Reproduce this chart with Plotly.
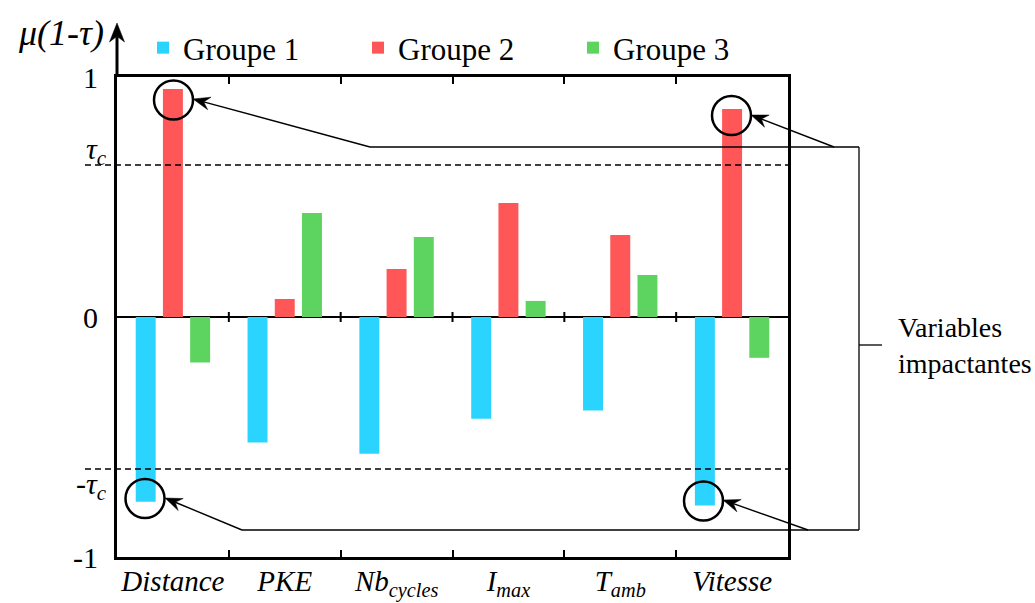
import math
import plotly.graph_objects as go

categories = ["Distance", "PKE", "Nb_cycles", "I_max", "T_amb", "Vitesse"]
tick_labels = ["<i>Distance</i>", "<i>PKE</i>", "<i>Nb<sub>cycles</sub></i>",
               "<i>I<sub>max</sub></i>", "<i>T<sub>amb</sub></i>", "<i>Vitesse</i>"]
series_names = ["Groupe 1", "Groupe 2", "Groupe 3"]
groupe1 = [-0.77, -0.523, -0.57, -0.424, -0.39, -0.785]
groupe2 = [0.95, 0.075, 0.20, 0.475, 0.342, 0.867]
groupe3 = [-0.19, 0.433, 0.333, 0.067, 0.175, -0.17]
colors = ["#2BD4FF", "#FF5757", "#5ED460"]
tau_c = 0.633
y_tickvals = [1, 0, -1]
y_ticktext = ["1", "0", "-1"]

W, H = 1035, 603
L, R, T, B = 117, 247, 77, 46
PW, PH = W - L - R, H - T - B
FONT = "Liberation Serif"


def px(x):
    return (x - L) / PW


def py(y):
    return (H - B - y) / PH


fig = go.Figure()
for name, vals, col in zip(series_names, [groupe1, groupe2, groupe3], colors):
    fig.add_trace(go.Bar(x=categories, y=vals, name=name, marker=dict(color=col, line=dict(width=0))))

shapes = []
# dashed threshold lines
for v in (tau_c, -tau_c):
    shapes.append(dict(type="line", xref="paper", yref="paper", x0=px(85), x1=1,
                       y0=(v + 1) / 2, y1=(v + 1) / 2,
                       line=dict(color="black", width=1.5, dash="6px,4px")))
# ticks on zero line
for i in range(len(categories) - 1):
    shapes.append(dict(type="line", xref="x", yref="paper", x0=i + 0.5, x1=i + 0.5,
                       y0=0.5 - 5 / PH, y1=0.5 + 5 / PH, line=dict(color="black", width=2)))
# circles
circles = [(173.5, 100), (731.5, 115.5), (145, 498.5), (703.5, 501)]
for cx, cy in circles:
    shapes.append(dict(type="circle", xref="paper", yref="paper", xsizemode="pixel", ysizemode="pixel",
                       xanchor=px(cx), yanchor=py(cy), x0=-19.5, x1=19.5, y0=-19.5, y1=19.5,
                       line=dict(color="black", width=2.5)))
# connector lines / bracket
conn = [((370, 147), (859, 147)), ((242, 530), (859, 530)), ((859, 147), (859, 530)), ((859, 345), (882, 345))]
for (x0, y0), (x1, y1) in conn:
    shapes.append(dict(type="line", xref="paper", yref="paper", x0=px(x0), x1=px(x1), y0=py(y0), y1=py(y1),
                       line=dict(color="black", width=1.3)))


def arrow(tip, tail, width, head_len, head_w, back):
    tx, ty = tip
    sx, sy = tail
    d = math.hypot(tx - sx, ty - sy)
    ux, uy = (tx - sx) / d, (ty - sy) / d
    nx, ny = -uy, ux
    bx, by = tx - ux * head_len * back, ty - uy * head_len * back
    shapes.append(dict(type="line", xref="paper", yref="paper", x0=px(sx), y0=py(sy), x1=px(bx), y1=py(by),
                       line=dict(color="black", width=width)))
    pts = [(tx, ty),
           (tx - ux * head_len + nx * head_w, ty - uy * head_len + ny * head_w),
           (bx, by),
           (tx - ux * head_len - nx * head_w, ty - uy * head_len - ny * head_w)]
    path = "M " + " L ".join(f"{px(a):.5f},{py(b):.5f}" for a, b in pts) + " Z"
    shapes.append(dict(type="path", xref="paper", yref="paper", path=path,
                       fillcolor="black", line=dict(color="black", width=0.5)))


arrows = [((193, 99), (370, 147)), ((751, 115), (834, 147)), ((165, 498), (242, 530)), ((723, 500), (808, 530))]
for tip, tail in arrows:
    arrow(tip, tail, 1.4, 17, 6.5, 0.65)
# y axis arrow
arrow((117, 23), (117, 77), 3, 19, 7.5, 0.7)

annotations = []
# y axis title
annotations.append(dict(xref="paper", yref="paper", x=px(61), y=py(33), xanchor="center", yanchor="middle",
                        text="<i>μ(1-τ)</i>", showarrow=False, font=dict(family=FONT, size=36, color="black")))
# tau labels
annotations.append(dict(xref="paper", yref="paper", x=px(109), y=(tau_c + 1) / 2, yshift=14, xanchor="right",
                        yanchor="middle", text="<i>τ<sub>c</sub></i>", showarrow=False,
                        font=dict(family=FONT, size=30, color="black")))
annotations.append(dict(xref="paper", yref="paper", x=px(109), y=(-tau_c + 1) / 2, yshift=-17, xanchor="right",
                        yanchor="middle", text="-<i>τ<sub>c</sub></i>", showarrow=False,
                        font=dict(family=FONT, size=30, color="black")))
annotations.append(dict(xref="paper", yref="paper", x=px(896), y=py(345), xanchor="left", yanchor="middle",
                        align="left", text="Variables<br>impactantes", showarrow=False,
                        font=dict(family=FONT, size=28, color="black")))

fig.update_layout(
    width=W, height=H,
    margin=dict(l=L, r=R, t=T, b=B, autoexpand=False),
    paper_bgcolor="white", plot_bgcolor="white",
    barmode="group", bargap=0.27, bargroupgap=0.266,
    font=dict(family=FONT, size=28, color="black"),
    showlegend=True,
    legend=dict(orientation="h", x=px(143), xanchor="left", y=py(48), yanchor="middle",
                entrywidth=170, entrywidthmode="pixels", font=dict(family=FONT, size=31),
                bgcolor="rgba(0,0,0,0)", itemclick=False, itemdoubleclick=False),
    xaxis=dict(type="category", tickvals=categories, ticktext=tick_labels, tickson="boundaries",
               ticks="inside", ticklen=7, tickwidth=2, tickcolor="black", tickangle=0,
               ticklabelstandoff=-4,
               showline=True, linewidth=3, linecolor="black", mirror="ticks",
               showgrid=False, zeroline=False, range=[-0.5, 5.5], automargin=False,
               tickfont=dict(family=FONT, size=29, color="black")),
    yaxis=dict(range=[-1, 1], tickvals=y_tickvals, ticktext=y_ticktext, ticks="",
               showline=True, linewidth=3, linecolor="black", mirror=True, automargin=False,
               showgrid=False, zeroline=True, zerolinecolor="black", zerolinewidth=2,
               ticklabelstandoff=10, tickfont=dict(family=FONT, size=30, color="black")),
    shapes=shapes, annotations=annotations,
)

fig.write_html("out.html", config={"displayModeBar": False},
               post_script="document.body.style.margin='0';document.body.style.overflow='hidden';")
